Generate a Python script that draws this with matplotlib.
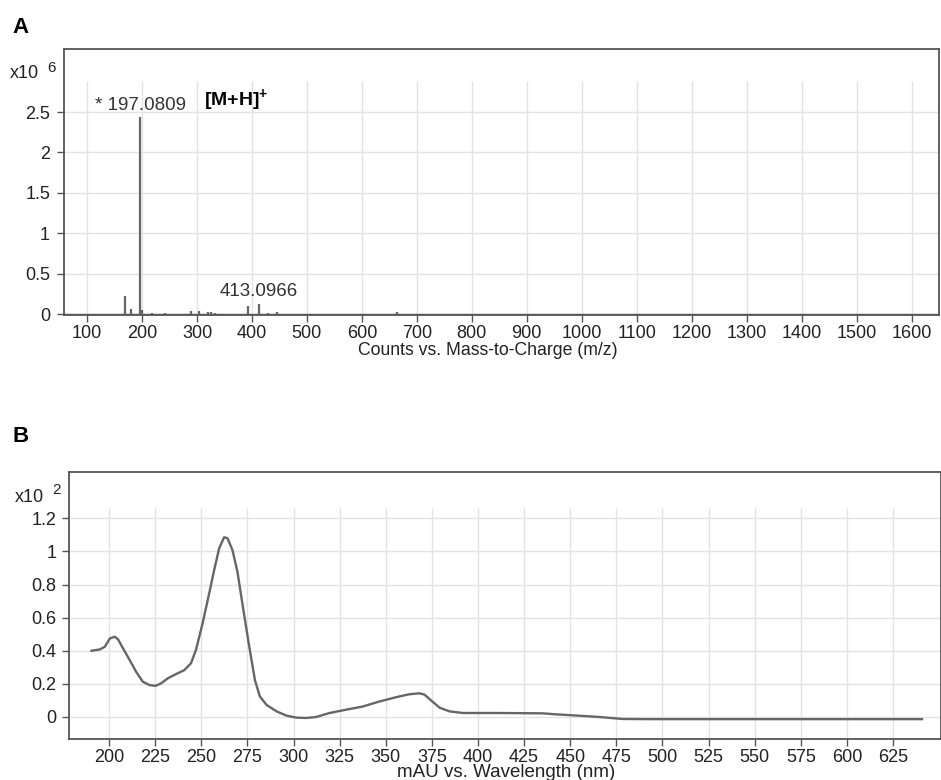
import numpy as np
import matplotlib.pyplot as plt

plt.rcParams['font.family'] = ['Liberation Sans', 'DejaVu Sans']
plt.rcParams['mathtext.fontset'] = 'custom'
plt.rcParams['mathtext.rm'] = 'Liberation Sans'
plt.rcParams['mathtext.bf'] = 'Liberation Sans:bold'

# --- A: MS spectrum (counts x10^6) ---
mz = [169.0, 179.1, 197.0809, 200.6, 219.0, 241.0, 289.1, 303.6, 319.1,
      325.1, 333.0, 392.1, 413.0966, 429.0, 446.1, 663.2]
counts = [0.22, 0.06, 2.44, 0.05, 0.01, 0.01, 0.04, 0.04, 0.02,
          0.02, 0.01, 0.10, 0.13, 0.01, 0.03, 0.03]
ms_xticks = list(range(100, 1700, 100))
ms_yticks = [0, 0.5, 1, 1.5, 2, 2.5]
ms_ylabels = ['0', '0.5', '1', '1.5', '2', '2.5']

# --- B: UV spectrum (mAU x10^2) ---
wl = [190.5, 195.0, 197.7, 200.4, 203.1, 204.9, 207.6, 211.2, 214.7, 218.3,
      221.9, 225.2, 228.2, 231.8, 236.3, 240.8, 244.4, 247.1, 250.7, 254.3,
      257.0, 259.7, 262.4, 264.2, 266.9, 269.6, 272.5, 275.5, 277.3, 279.1,
      281.8, 285.4, 290.8, 296.2, 301.6, 306.9, 312.3, 319.5, 328.5, 337.5,
      346.4, 355.4, 362.6, 368.3, 371.0, 374.6, 379.2, 384.6, 391.8, 411.6,
      435.1, 442.3, 451.4, 465.8, 478.4, 492.9, 640.7]
mau = [0.400, 0.408, 0.424, 0.474, 0.485, 0.469, 0.414, 0.344, 0.273, 0.213,
       0.193, 0.188, 0.203, 0.233, 0.259, 0.283, 0.324, 0.404, 0.565, 0.747,
       0.888, 1.019, 1.086, 1.080, 1.009, 0.878, 0.670, 0.460, 0.340, 0.222,
       0.123, 0.073, 0.034, 0.008, -0.004, -0.006, 0.000, 0.024, 0.044, 0.063,
       0.093, 0.119, 0.137, 0.143, 0.135, 0.100, 0.056, 0.034, 0.024, 0.024,
       0.022, 0.016, 0.010, 0.000, -0.012, -0.013, -0.013]
uv_xticks = list(range(200, 650, 25))
uv_yticks = [0, 0.2, 0.4, 0.6, 0.8, 1.0, 1.2]
uv_ylabels = ['0', '0.2', '0.4', '0.6', '0.8', '1', '1.2']

W, H = 941, 780
fig = plt.figure(figsize=(W / 100, H / 100), dpi=100)

frame = '#555555'
gridc = '#e3e3e3'
linec = '#666666'
txt = '#222222'


def style(ax, fs, ypad):
    for s in ax.spines.values():
        s.set_color(frame)
        s.set_linewidth(1.3)
    ax.tick_params(length=5, width=1, color=frame, labelsize=fs,
                   labelcolor=txt)
    ax.tick_params(axis='y', pad=ypad)
    ax.tick_params(axis='x', pad=2)
    ax.grid(axis='y', color=gridc, lw=1)
    ax.set_axisbelow(True)


# panel A
axA = fig.add_axes([64 / W, 1 - 315 / H, 875 / W, 266 / H])
axA.set_xlim(58, 1650)
axA.set_ylim(-0.012, 3.28)
axA.vlines(ms_xticks, -0.012, 2.88, color=gridc, lw=1, zorder=0)
axA.vlines(mz, 0, counts, color=linec, lw=1.6)
axA.axhline(0, color=linec, lw=1)
axA.set_xticks(ms_xticks)
axA.set_yticks(ms_yticks)
axA.set_yticklabels(ms_ylabels)
style(axA, 13, 5)
axA.text(197.0809, 2.525, '* 197.0809', ha='center', va='baseline',
         fontsize=13.5, color='#333333')
axA.text(313, 2.57, r'[M+H]$^{\mathbf{+}}$', ha='left', va='baseline',
         fontsize=14, fontweight='bold', color='black')
axA.text(413.0966, 0.22, '413.0966', ha='center', va='baseline',
         fontsize=13.5, color='#333333')
fig.text(488 / W, 1 - 355 / H, 'Counts vs. Mass-to-Charge (m/z)',
         ha='center', va='baseline', fontsize=12.7, color=txt)
fig.text(10 / W, 1 - 78 / H, 'x10', fontsize=13, color=txt)
fig.text(47.5 / W, 1 - 72.5 / H, '6', fontsize=11, color=txt)
fig.text(12 / W, 1 - 33 / H, 'A', fontsize=16, fontweight='bold')

# panel B
axB = fig.add_axes([69 / W, 1 - 739 / H, 872 / W, 267 / H])
axB.set_xlim(178.3, 651)
axB.set_ylim(-0.133, 1.48)
axB.vlines(uv_xticks, -0.133, 1.264, color=gridc, lw=1, zorder=0)
axB.plot(wl, mau, color=linec, lw=1.7, solid_joinstyle='round')
axB.set_xticks(uv_xticks)
axB.set_yticks(uv_yticks)
axB.set_yticklabels(uv_ylabels)
style(axB, 13, 4)
fig.text(506 / W, 1 - 777 / H, 'mAU vs. Wavelength (nm)',
         ha='center', va='baseline', fontsize=13.5, color=txt)
fig.text(15 / W, 1 - 502 / H, 'x10', fontsize=13, color=txt)
fig.text(52.5 / W, 1 - 494 / H, '2', fontsize=11, color=txt)
fig.text(13 / W, 1 - 442 / H, 'B', fontsize=16, fontweight='bold')

fig.savefig('out.png', dpi=100)
